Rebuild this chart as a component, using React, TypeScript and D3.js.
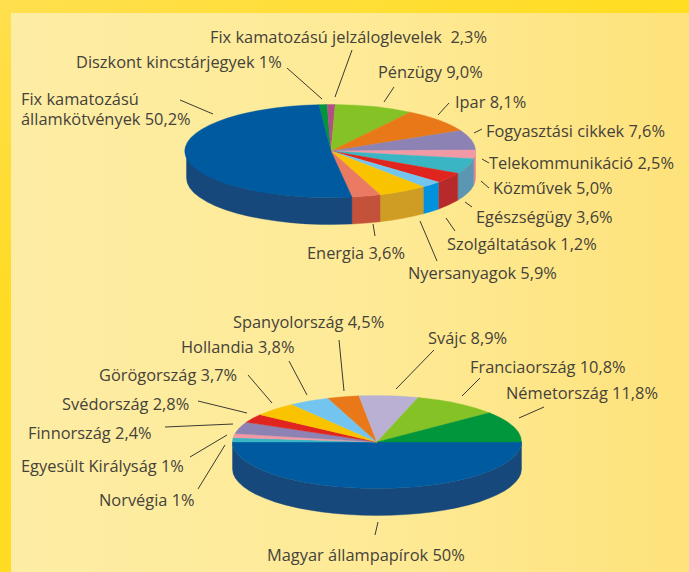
import React from "react";
import * as d3 from "d3";

const WIDTH = 689;
const HEIGHT = 572;

const topShares = [0.9, 0.9, 8.75, 8.5, 6.9, 3.0, 5.3, 3.7, 2.3, 5.5, 3.2, 50.9];
const topFill = ["#00963c", "#b44f86", "#85c226", "#e87818", "#8d82b4", "#f19aa6", "#3ab5c4", "#e0241e", "#74c4f0", "#f9c300", "#ea7a62", "#005a9f"];
const topSide = ["#00963c", "#b44f86", "#85c226", "#e87818", "#8d82b4", "#dd7f95", "#5b96b2", "#b62a2b", "#0092dd", "#cf9c24", "#c4523b", "#17487c"];

// Bottom pie: clockwise from 90 degrees.
const bottomShares = [50, 1.5, 1.4, 4.1, 3.0, 5.0, 4.5, 3.5, 6.6, 9.6, 10.8];
const bottomFill = ["#005a9f", "#3ab5c4", "#f19aa6", "#8d82b4", "#e0241e", "#f9c300", "#74c4f0", "#e87818", "#b9b0d4", "#85c226", "#00963c"];
const bottomSide = ["#17487c", "#17487c", "#17487c", "#17487c", "#17487c", "#17487c", "#17487c", "#17487c", "#17487c", "#17487c", "#17487c"];

const topLabels: [string, number, number][] = [
  ["Fix kamatozású jelzáloglevelek  2,3%", 210, 43],
  ["Diszkont kincstárjegyek 1%", 76, 67.5],
  ["Fix kamatozású", 21, 105],
  ["államkötvények 50,2%", 21, 125],
  ["Pénzügy 9,0%", 378, 78],
  ["Ipar 8,1%", 455, 108],
  ["Fogyasztási cikkek 7,6%", 486, 137],
  ["Telekommunikáció 2,5%", 489, 169],
  ["Közművek 5,0%", 493, 194],
  ["Egészségügy 3,6%", 476, 223],
  ["Szolgáltatások 1,2%", 447, 250],
  ["Energia 3,6%", 307, 259],
  ["Nyersanyagok 5,9%", 408, 279],
];
const bottomLabels: [string, number, number][] = [
  ["Spanyolország 4,5%", 233, 328],
  ["Hollandia 3,8%", 181, 353],
  ["Görögország 3,7%", 99, 381],
  ["Svédország 2,8%", 62, 410],
  ["Finnország 2,4%", 28, 439],
  ["Egyesült Királyság 1%", 21, 472],
  ["Norvégia 1%", 99, 506],
  ["Svájc 8,9%", 428, 344],
  ["Franciaország 10,8%", 470, 373],
  ["Németország 11,8%", 506, 399],
  ["Magyar állampapírok 50%", 267, 561],
];
const leaders: [number, number, number, number][] = [
  [287, 68, 322, 99], [352, 50, 335, 97], [180, 100, 213, 114], [394, 87, 384, 102],
  [449, 103, 438, 115], [482, 129, 474, 133], [489, 163, 482, 159], [489, 188, 481, 181],
  [472, 207, 465, 202], [455, 231, 446, 218], [437, 261, 420, 221], [375, 236, 373, 224],
  [339, 340, 344, 391], [289, 361, 307, 395], [248, 375, 272, 403], [198, 401, 247, 413],
  [165, 427, 233, 424], [190, 457, 227, 435], [198, 489, 225, 445], [434, 350, 396, 389],
  [480, 378, 462, 396], [544, 407, 519, 418], [378, 522, 375, 535],
];

const rad = (d: number) => (d * Math.PI) / 180;

function Pie3D({ cx, cy, rx, ry, depth, shares, fills, sides, start }: {
  cx: number; cy: number; rx: number; ry: number; depth: number;
  shares: number[]; fills: string[]; sides: string[]; start: number;
}) {
  const pie = d3.pie<number>().sort(null).value((d) => d).startAngle(rad(start)).endAngle(rad(start + 360));
  const arcs = pie(shares);
  const arc = d3.arc<d3.PieArcDatum<number>>().innerRadius(0).outerRadius(1);
  const pt = (a: number, dy = 0) => `${cx + rx * Math.sin(a)} ${cy - ry * Math.cos(a) + dy}`;
  const wall = (a0: number, a1: number) =>
    `M${pt(a0)}A${rx} ${ry} 0 0 1 ${pt(a1)}L${pt(a1, depth)}A${rx} ${ry} 0 0 0 ${pt(a0, depth)}Z`;
  const lo = Math.PI / 2;
  const hi = (3 * Math.PI) / 2;
  return (
    <g>
      {arcs.map((d, i) => {
        const segs: React.ReactNode[] = [];
        for (const off of [0, 2 * Math.PI, -2 * Math.PI]) {
          const a0 = Math.max(d.startAngle + off, lo);
          const a1 = Math.min(d.endAngle + off, hi);
          if (a1 > a0) segs.push(<path key={off} d={wall(a0, a1)} fill={sides[i]} stroke={sides[i]} strokeWidth={0.4} />);
        }
        return <g key={i}>{segs}</g>;
      })}
      <g transform={`translate(${cx},${cy}) scale(${rx},${ry})`}>
        {arcs.map((d, i) => (
          <path key={i} d={arc(d) ?? ""} fill={fills[i]} stroke={fills[i]} strokeWidth={0.4} vectorEffect="non-scaling-stroke" />
        ))}
      </g>
    </g>
  );
}

export default function App() {
  const labels = [...topLabels, ...bottomLabels];
  return (
    <svg width={WIDTH} height={HEIGHT} style={{ position: "absolute", left: 0, top: 0, display: "block" }}>
      <defs>
        <linearGradient id="outer" x1="0" y1="0" x2="1" y2="0">
          <stop offset="0" stopColor="#ffdf4e" />
          <stop offset="1" stopColor="#ffdd20" />
        </linearGradient>
        <linearGradient id="outerLeft" x1="0" y1="0" x2="0" y2="1">
          <stop offset="0" stopColor="#ffdf4e" />
          <stop offset="0.55" stopColor="#ffdb22" />
          <stop offset="1" stopColor="#ffdb22" />
        </linearGradient>
        <linearGradient id="panel" x1="0" y1="0" x2="1" y2="0">
          <stop offset="0" stopColor="#fdeda4" />
          <stop offset="0.55" stopColor="#feea96" />
          <stop offset="1" stopColor="#fee27a" />
        </linearGradient>
      </defs>
      <rect width={WIDTH} height={HEIGHT} fill="url(#outer)" />
      <rect width={11} height={HEIGHT} fill="url(#outerLeft)" />
      <rect x={11} y={13} width={WIDTH - 11} height={HEIGHT - 13} fill="url(#panel)" />
      <Pie3D cx={331} cy={151} rx={144.5} ry={46.5} depth={27} shares={topShares} fills={topFill} sides={topSide} start={-4.8} />
      <Pie3D cx={377} cy={442} rx={144.5} ry={46.5} depth={27} shares={bottomShares} fills={bottomFill} sides={bottomSide} start={90} />
      <g stroke="#3c3a32" strokeWidth={1}>
        {leaders.map((l, i) => (
          <line key={i} x1={l[0]} y1={l[1]} x2={l[2]} y2={l[3]} />
        ))}
      </g>
      <g fontFamily="'Open Sans', sans-serif" fontSize={16.4} fill="#45423a">
        {labels.map(([t, x, y], i) => (
          <text key={i} x={x} y={y} xmlSpace="preserve" style={{ whiteSpace: "pre" }}>{t}</text>
        ))}
      </g>
    </svg>
  );
}
